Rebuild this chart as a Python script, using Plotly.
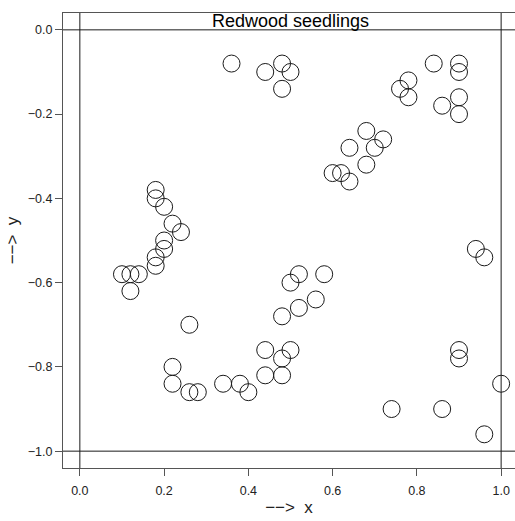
import plotly.graph_objects as go

# Redwood seedlings point pattern
x_vals = [0.36, 0.44, 0.48, 0.50, 0.48,
          0.84, 0.90, 0.90, 0.78, 0.76, 0.78, 0.90, 0.86, 0.90,
          0.68, 0.72, 0.64, 0.70, 0.68, 0.60, 0.62, 0.64,
          0.94, 0.96,
          0.18, 0.18, 0.20, 0.22, 0.24, 0.20, 0.20, 0.18,
          0.10, 0.12, 0.14, 0.18, 0.12,
          0.26, 0.22, 0.22, 0.26, 0.28, 0.34, 0.38, 0.40,
          0.44, 0.50, 0.48, 0.44, 0.48,
          0.52, 0.50, 0.58, 0.56, 0.52, 0.48,
          0.90, 0.90, 1.00, 0.74, 0.86, 0.96]
y_vals = [-0.08, -0.10, -0.08, -0.10, -0.14,
          -0.08, -0.08, -0.10, -0.12, -0.14, -0.16, -0.16, -0.18, -0.20,
          -0.24, -0.26, -0.28, -0.28, -0.32, -0.34, -0.34, -0.36,
          -0.52, -0.54,
          -0.38, -0.40, -0.42, -0.46, -0.48, -0.50, -0.52, -0.54,
          -0.58, -0.58, -0.58, -0.56, -0.62,
          -0.70, -0.80, -0.84, -0.86, -0.86, -0.84, -0.84, -0.86,
          -0.76, -0.76, -0.78, -0.82, -0.82,
          -0.58, -0.60, -0.58, -0.64, -0.66, -0.68,
          -0.76, -0.78, -0.84, -0.90, -0.90, -0.96]

x_ticks = [0.0, 0.2, 0.4, 0.6, 0.8, 1.0]
x_tick_labels = ["0.0", "0.2", "0.4", "0.6", "0.8", "1.0"]
y_ticks = [0.0, -0.2, -0.4, -0.6, -0.8, -1.0]
y_tick_labels = ["0.0", "\u22120.2", "\u22120.4", "\u22120.6", "\u22120.8", "\u22121.0"]
window_x = [0.0, 1.0]
window_y = [0.0, -1.0]
title_text = "Redwood seedlings"

FONT = "Liberation Sans, Arial, sans-serif"
INK = "#1a1a1a"
AXC = "#555555"

fig = go.Figure()
fig.add_trace(go.Scatter(
    x=x_vals, y=y_vals, mode="markers",
    marker=dict(symbol="circle-open", size=17, color=INK,
                line=dict(width=1, color=INK)),
    showlegend=False, hoverinfo="skip"))

shapes = []
for xv in window_x:
    shapes.append(dict(type="line", xref="x", yref="paper", x0=xv, x1=xv,
                       y0=0, y1=1, line=dict(color=INK, width=1)))
for yv in window_y:
    shapes.append(dict(type="line", xref="paper", yref="y", x0=0, x1=1,
                       y0=yv, y1=yv, line=dict(color=INK, width=1)))

fig.update_layout(
    width=515, height=521,
    margin=dict(l=63, r=0, t=13, b=53),
    paper_bgcolor="white", plot_bgcolor="white",
    font=dict(family=FONT, color="#222222", size=12),
    shapes=shapes,
    annotations=[dict(text=title_text, x=0.5, y=0.021, xref="x", yref="y",
                      showarrow=False, font=dict(size=18, family=FONT, color="#000000"),
                      xanchor="center", yanchor="middle")],
    xaxis=dict(range=[-0.04, 1.0329], tickvals=x_ticks, ticktext=x_tick_labels,
               showgrid=False, zeroline=False, showline=True, mirror=True,
               linecolor=AXC, linewidth=1, ticks="outside", ticklen=7,
               tickcolor=AXC, tickfont=dict(size=12.5), ticklabelstandoff=4,
               title=dict(text="\u2212\u2212>  x", font=dict(size=17), standoff=4)),
    yaxis=dict(range=[-1.04, 0.04], tickvals=y_ticks, ticktext=y_tick_labels,
               showgrid=False, zeroline=False, showline=True, mirror=False,
               linecolor=AXC, linewidth=1, ticks="outside", ticklen=7,
               tickcolor=AXC, tickfont=dict(size=12.5),
               title=dict(text="\u2212\u2212>  y", font=dict(size=17), standoff=4)),
)

fig.write_html("out.html")
